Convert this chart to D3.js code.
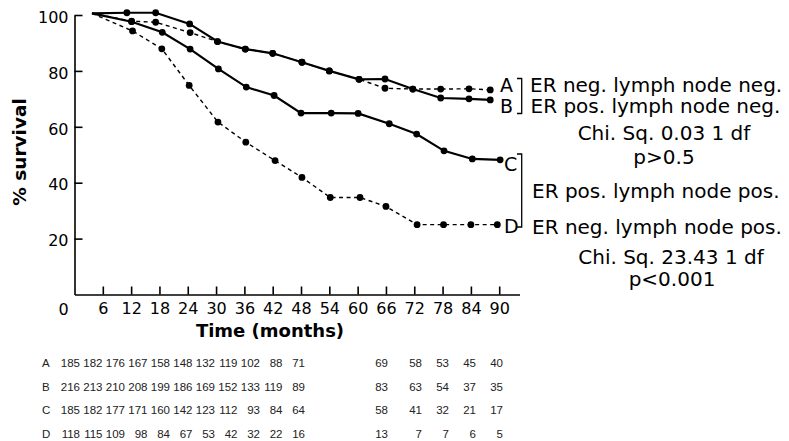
<!DOCTYPE html>
<html>
<head>
<meta charset="utf-8">
<script src="https://cdn.jsdelivr.net/npm/d3@7"></script>
<style>
  body { margin: 0; background: #fff; }
  svg { display: block; }
</style>
</head>
<body>
<svg id="chart" width="789" height="441"></svg>
<script>
// tick labels
const xTicks = [6, 12, 18, 24, 30, 36, 42, 48, 54, 60, 66, 72, 78, 84, 90];
const yTicks = [20, 40, 60, 80, 100];

// survival curves (months, % survival)
const timeA = [3.7, 12.1, 17.2, 24.5, 30.3, 36.2, 42.0, 48.2, 54.0, 60.3, 65.8, 71.7, 77.6, 83.6, 88.1];
const survA = [100.6, 97.8, 97.4, 93.7, 90.5, 87.8, 86.3, 83.1, 80.0, 77.0, 73.8, 73.5, 73.5, 73.6, 73.2];

const timeB = [3.7, 11.1, 17.2, 24.4, 30.3, 36.2, 42.0, 48.2, 54.0, 60.3, 65.8, 71.7, 77.6, 83.6, 88.1];
const survB = [100.6, 100.8, 100.8, 96.8, 90.5, 87.8, 86.3, 83.1, 80.0, 77.0, 77.1, 73.5, 70.3, 70.0, 69.6];

const timeC = [3.7, 12.1, 18.6, 24.5, 30.5, 36.4, 42.3, 48.0, 54.4, 60.1, 66.7, 72.5, 78.3, 84.3, 90.2];
const survC = [100.6, 97.6, 93.8, 87.8, 80.7, 74.2, 71.2, 64.9, 64.9, 64.8, 61.1, 57.4, 51.4, 48.5, 48.2];

const timeD = [3.7, 12.3, 18.5, 24.3, 30.4, 36.3, 42.5, 48.2, 54.2, 60.5, 66.0, 72.6, 78.2, 84.0, 89.6];
const survD = [100.6, 94.3, 87.9, 74.8, 61.7, 54.5, 47.9, 41.9, 34.7, 34.7, 31.5, 25.0, 25.0, 25.0, 25.0];

// numbers at risk
const riskA = [185, 182, 176, 167, 158, 148, 132, 119, 102, 88, 71, 69, 58, 53, 45, 40];
const riskB = [216, 213, 210, 208, 199, 186, 169, 152, 133, 119, 89, 83, 63, 54, 37, 35];
const riskC = [185, 182, 177, 171, 160, 142, 123, 112, 93, 84, 64, 58, 41, 32, 21, 17];
const riskD = [118, 115, 109, 98, 84, 67, 53, 42, 32, 22, 16, 13, 7, 7, 6, 5];

const svg = d3.select("#chart");
const font = "'DejaVu Sans', sans-serif";

const x = d3.scaleLinear().domain([0, 94.3]).range([74.5, 519.5]);
const y = d3.scaleLinear().domain([0, 100]).range([294.5, 15]);

// axes (inward ticks)
const xAxis = svg.append("g")
    .attr("transform", "translate(0," + y(0) + ")")
    .call(d3.axisBottom(x).tickValues(xTicks).tickSizeInner(-8).tickSizeOuter(0).tickPadding(8.5));
const yAxis = svg.append("g")
    .attr("transform", "translate(" + x(0) + ",0)")
    .call(d3.axisLeft(y).tickValues(yTicks).tickSizeInner(-8).tickSizeOuter(0).tickPadding(6));

[xAxis, yAxis].forEach(function(a) {
  a.selectAll("path, line").attr("stroke", "#000").attr("stroke-width", 1.6);
  a.selectAll("text").attr("fill", "#000").attr("font-family", font).attr("font-size", 16);
});
yAxis.selectAll("text").attr("dy", "0.45em");

svg.append("text")
    .attr("x", x(0) - 11)
    .attr("y", y(0) + 20)
    .attr("text-anchor", "middle")
    .attr("font-family", font).attr("font-size", 16)
    .text("0");

svg.append("text")
    .attr("x", 270).attr("y", 337)
    .attr("text-anchor", "middle")
    .attr("font-family", font).attr("font-size", 18).attr("font-weight", "bold")
    .text("Time (months)");

svg.append("text")
    .attr("transform", "translate(26,152) rotate(-90)")
    .attr("text-anchor", "middle")
    .attr("font-family", font).attr("font-size", 18.5).attr("font-weight", "bold")
    .text("% survival");

// curves
const series = [
  {key: "A", t: timeA, v: survA, dashed: true},
  {key: "D", t: timeD, v: survD, dashed: true},
  {key: "B", t: timeB, v: survB, dashed: false},
  {key: "C", t: timeC, v: survC, dashed: false}
];

const line = d3.line()
    .x(function(d) { return x(d[0]); })
    .y(function(d) { return y(d[1]); });

series.forEach(function(s) {
  const pts = s.t.map(function(t, i) { return [t, s.v[i]]; });
  svg.append("path")
      .datum(pts)
      .attr("fill", "none")
      .attr("stroke", "#000")
      .attr("stroke-width", s.dashed ? 1.4 : 2.2)
      .attr("stroke-dasharray", s.dashed ? "4,3.5" : null)
      .attr("d", line);
  svg.append("g")
    .selectAll("circle")
    .data(pts.slice(1))
    .enter().append("circle")
      .attr("cx", function(d) { return x(d[0]); })
      .attr("cy", function(d) { return y(d[1]); })
      .attr("r", 3.4)
      .attr("fill", "#000");
});

// curve letters and brackets
const letters = [
  {k: "A", x: 500, y: 92},
  {k: "B", x: 500, y: 113},
  {k: "C", x: 504, y: 171},
  {k: "D", x: 504, y: 233}
];
svg.append("g").selectAll("text")
  .data(letters)
  .enter().append("text")
    .attr("x", function(d) { return d.x; })
    .attr("y", function(d) { return d.y; })
    .attr("font-family", font).attr("font-size", 19)
    .text(function(d) { return d.k; });

svg.append("path")
    .attr("d", "M517,78.5H521.7V113.5H517")
    .attr("fill", "none").attr("stroke", "#000").attr("stroke-width", 1.3);
svg.append("path")
    .attr("d", "M517,154H521.7V227H517")
    .attr("fill", "none").attr("stroke", "#000").attr("stroke-width", 1.3);

const notes = [
  {t: "ER neg. lymph node neg.", x: 530, y: 92, a: "start"},
  {t: "ER pos. lymph node neg.", x: 530.5, y: 113, a: "start"},
  {t: "Chi. Sq. 0.03 1 df", x: 664, y: 140, a: "middle"},
  {t: "p>0.5", x: 664, y: 164, a: "middle"},
  {t: "ER pos. lymph node pos.", x: 532, y: 198, a: "start"},
  {t: "ER neg. lymph node pos.", x: 532, y: 234, a: "start"},
  {t: "Chi. Sq. 23.43 1 df", x: 671, y: 264, a: "middle"},
  {t: "p<0.001", x: 672, y: 286, a: "middle"}
];
svg.append("g").selectAll("text")
  .data(notes)
  .enter().append("text")
    .attr("x", function(d) { return d.x; })
    .attr("y", function(d) { return d.y; })
    .attr("text-anchor", function(d) { return d.a; })
    .attr("font-family", font).attr("font-size", 20)
    .text(function(d) { return d.t; });

// numbers-at-risk table
const col = d3.scaleLinear().domain([0, 10, 11, 12, 15]).range([80, 305, 388, 422, 503]);
const rowY = d3.scalePoint().domain(["A", "B", "C", "D"]).range([367, 438]);
const rows = [["A", riskA], ["B", riskB], ["C", riskC], ["D", riskD]];

const tbl = svg.append("g")
    .attr("font-family", "'Liberation Sans', Arial, sans-serif")
    .attr("font-size", 11.5)
    .attr("fill", "#222");

rows.forEach(function(r) {
  tbl.append("text")
      .attr("x", 42).attr("y", rowY(r[0]))
      .text(r[0]);
  tbl.append("g").selectAll("text")
    .data(r[1])
    .enter().append("text")
      .attr("x", function(d, i) { return col(i); })
      .attr("y", rowY(r[0]))
      .attr("text-anchor", "end")
      .text(function(d) { return d; });
});
</script>
</body>
</html>
